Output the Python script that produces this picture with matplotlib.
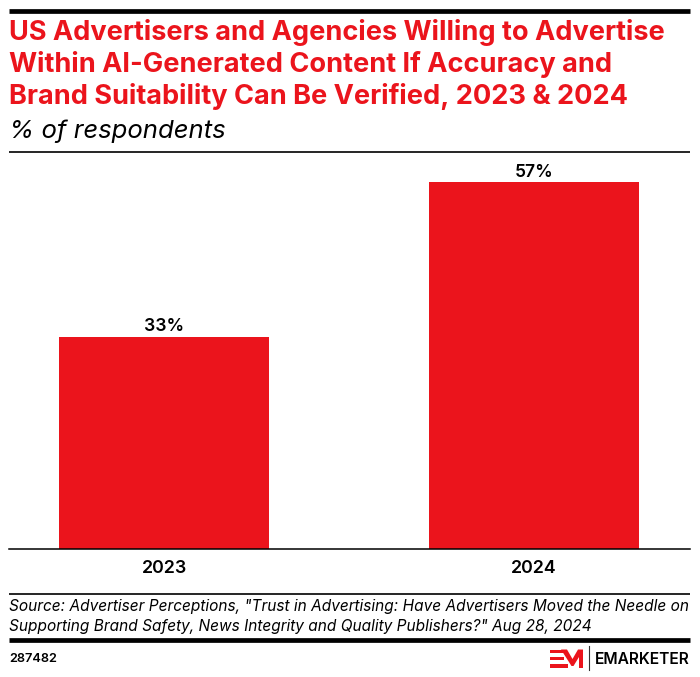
import matplotlib
matplotlib.use("Agg")
import matplotlib.pyplot as plt
from matplotlib.lines import Line2D
from matplotlib.patches import Polygon, Rectangle

years = ["2023", "2024"]
values = [33, 57]
title_lines = [
    "US Advertisers and Agencies Willing to Advertise",
    "Within AI-Generated Content If Accuracy and",
    "Brand Suitability Can Be Verified, 2023 & 2024",
]
subtitle = "% of respondents"
source_lines = [
    'Source: Advertiser Perceptions, "Trust in Advertising: Have Advertisers Moved the Needle on',
    'Supporting Brand Safety, News Integrity and Quality Publishers?" Aug 28, 2024',
]
chart_id = "287482"

RED = "#EB141C"
W, H = 700, 677

plt.rcParams["font.family"] = ["Inter", "DejaVu Sans"]
fig = plt.figure(figsize=(W / 100, H / 100), dpi=100)


def fx(x):
    return x / W


def fy(y):
    return 1 - y / H


def hline(y, lw):
    fig.add_artist(Line2D([fx(9), fx(690)], [fy(y), fy(y)], color="black", lw=lw, solid_capstyle="butt"))


# header
hline(11, 3.4)
for y, line in zip([33, 64, 96], title_lines):
    fig.text(fx(9), fy(y), line, color=RED, fontsize=19.55, fontweight="bold", va="center", ha="left")
fig.text(fx(9), fy(131), subtitle, color="black", fontsize=18.5, style="italic", va="center", ha="left")
hline(152, 1.2)

# bars
ax = fig.add_axes([fx(9), fy(549), fx(681), 397 / H])
xpos = range(len(years))
bars = ax.bar(xpos, values, width=0.568, color=RED)
for bar, v in zip(bars, values):
    ax.annotate(f"{v}%", (bar.get_x() + bar.get_width() / 2, v), xytext=(0, 1), textcoords="offset points",
                ha="center", va="bottom", fontsize=12.6, fontweight="semibold", color="black")
ax.set_xlim(-0.419, 1.4216)
ax.set_ylim(0, 61.7)
ax.set_xticks(list(xpos))
ax.set_xticklabels(years, fontsize=12.8, fontweight="semibold")
ax.set_yticks([])
ax.tick_params(axis="x", length=0, pad=8)
for side in ["top", "left", "right"]:
    ax.spines[side].set_visible(False)
ax.spines["bottom"].set_linewidth(1.1)

# footer
hline(594, 1.2)
for y, line in zip([606, 626], source_lines):
    fig.text(fx(9), fy(y), line, color="black", fontsize=11.1, style="italic", va="center", ha="left")
hline(640, 3.4)
fig.text(fx(9), fy(659), chart_id, color="black", fontsize=9.2, fontweight="semibold", va="center", ha="left")

# logo
for y0, y1, x1 in [(649.5, 653, 567), (656.5, 660, 564), (664, 668, 568)]:
    fig.add_artist(Rectangle((fx(550), fy(y1)), (x1 - 550) / W, (y1 - y0) / H, color=RED, lw=0))
m_outline = [(561, 649.5), (567, 649.5), (572.5, 659), (578, 649.5), (583, 649.5), (583, 668), (579, 668),
             (579, 657), (573.5, 666), (571.5, 666)]
fig.add_artist(Polygon([(fx(x), fy(y)) for x, y in m_outline], closed=True, color=RED, lw=0))
fig.add_artist(Line2D([fx(589), fx(589)], [fy(646), fy(670)], color="#333333", lw=0.8))
fig.text(fx(690), fy(659), "EMARKETER", color="black", fontsize=11.2, fontweight="semibold", va="center", ha="right")

fig.savefig("out.png", dpi=100)
